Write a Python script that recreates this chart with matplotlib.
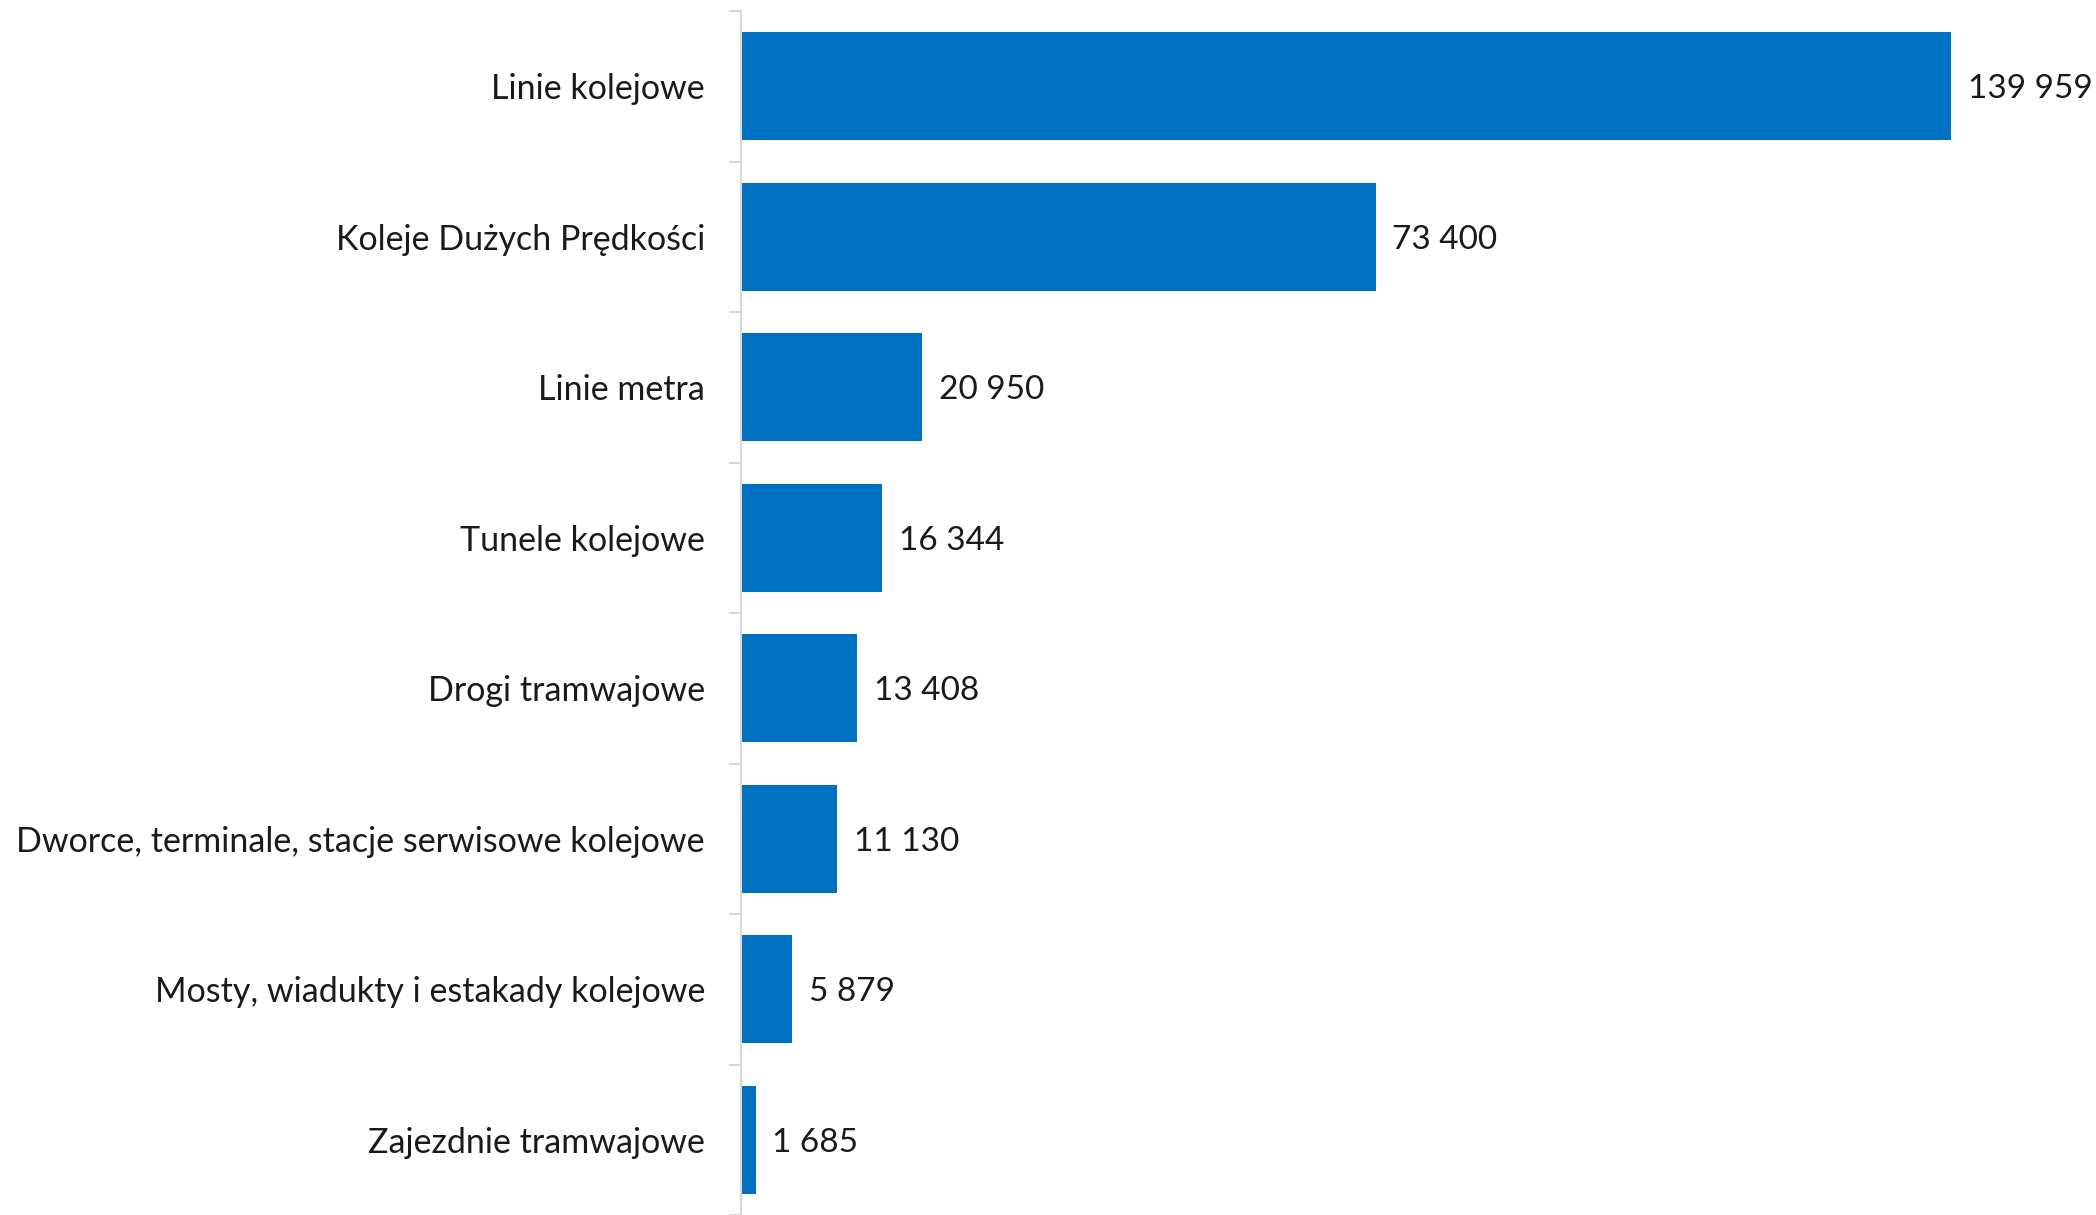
import matplotlib.pyplot as plt
import numpy as np

categories = ["Linie kolejowe", "Koleje Dużych Prędkości", "Linie metra", "Tunele kolejowe",
              "Drogi tramwajowe", "Dworce, terminale, stacje serwisowe kolejowe",
              "Mosty, wiadukty i estakady kolejowe", "Zajezdnie tramwajowe"]
values = [139959, 73400, 20950, 16344, 13408, 11130, 5879, 1685]

plt.rcParams['font.family'] = ['Lato', 'DejaVu Sans']

fig = plt.figure(figsize=(20.96, 12.15), dpi=100)
ax = fig.add_axes([741 / 2096, 0, 1 - 741 / 2096, 1 - 11 / 1215])

y = np.arange(len(categories))
ax.barh(y, values, height=0.72, color='#0070C0')
ax.set_ylim(len(categories) - 0.5, -0.5)
ax.set_xlim(0, 139959 * (2096 - 741) / (1951 - 741))

for yi, v in zip(y, values):
    ax.text(v + 1950, yi, f"{v:,}".replace(",", " "), va='center_baseline', ha='left',
            fontsize=24, color='#1a1a1a')

ax.set_yticks(y)
ax.set_yticklabels(categories, fontsize=24.5, color='#1a1a1a')
ax.tick_params(axis='y', which='major', length=0, pad=26)
ax.set_yticks(np.arange(len(categories) + 1) - 0.5, minor=True)
ax.tick_params(axis='y', which='minor', length=9, width=1.5, color='#d9d9d9')
ax.set_xticks([])
for s in ['top', 'right', 'bottom']:
    ax.spines[s].set_visible(False)
ax.spines['left'].set_color('#d9d9d9')
ax.spines['left'].set_linewidth(1.5)

fig.savefig("out.png", dpi=100)
